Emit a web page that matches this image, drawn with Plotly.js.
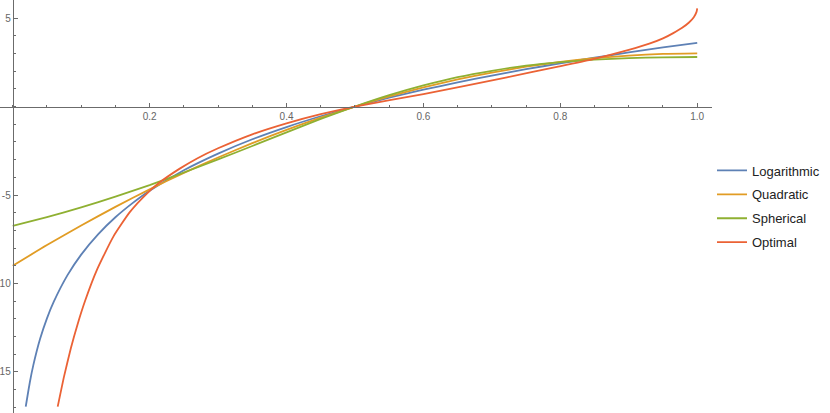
<!DOCTYPE html>
<html>
<head>
<meta charset="utf-8">
<script src="https://cdn.plot.ly/plotly-3.0.1.min.js"></script>
<style>
  html, body { margin: 0; padding: 0; background: #fff; }
  #chart { width: 830px; height: 413px; }
</style>
</head>
<body>
<div id="chart"></div>
<script>
// values
var seriesNames = ['Logarithmic', 'Quadratic', 'Spherical', 'Optimal'];
var seriesColors = ['#5E81B5', '#E19C24', '#8FB032', '#EB6235'];

var logP = [0.019, 0.025, 0.03, 0.04, 0.05, 0.06, 0.08, 0.1, 0.125, 0.15, 0.175, 0.2, 0.25, 0.3, 0.35, 0.4, 0.45, 0.5,
            0.55, 0.6, 0.65, 0.7, 0.75, 0.8, 0.85, 0.9, 0.95, 1.0];
var logY = [-16.96, -15.58, -14.63, -13.13, -11.97, -11.03, -9.53, -8.37, -7.21, -6.26, -5.46, -4.76, -3.60, -2.66, -1.85, -1.16, -0.55, 0,
            0.50, 0.95, 1.36, 1.75, 2.11, 2.44, 2.76, 3.06, 3.34, 3.60];

var quadP = [0, 0.05, 0.1, 0.15, 0.2, 0.25, 0.3, 0.35, 0.4, 0.45, 0.5, 0.55, 0.6, 0.65, 0.7, 0.75, 0.8, 0.85, 0.9, 0.95, 1.0];
var quadY = [-9.0, -7.83, -6.72, -5.67, -4.68, -3.75, -2.88, -2.07, -1.32, -0.63, 0, 0.57, 1.08, 1.53, 1.92, 2.25, 2.52, 2.73, 2.88, 2.97, 3.0];

var sphP = [0, 0.05, 0.1, 0.15, 0.2, 0.25, 0.3, 0.35, 0.4, 0.45, 0.5, 0.55, 0.6, 0.65, 0.7, 0.75, 0.8, 0.85, 0.9, 0.95, 1.0];
var sphY = [-6.75, -6.25, -5.70, -5.09, -4.44, -3.73, -2.99, -2.23, -1.46, -0.70, 0, 0.64, 1.19, 1.66, 2.02, 2.31, 2.51, 2.65, 2.74, 2.78, 2.80];

var optP = [0.0657, 0.075, 0.085, 0.095, 0.106, 0.123, 0.147, 0.171, 0.196, 0.213, 0.244, 0.27, 0.3, 0.35, 0.4, 0.45, 0.5,
            0.6, 0.722, 0.795, 0.848, 0.9, 0.93, 0.95, 0.965, 0.978, 0.988, 0.995, 0.999, 1.0];
var optY = [-16.96, -15.25, -13.65, -12.27, -10.95, -9.23, -7.35, -5.97, -4.92, -4.34, -3.51, -2.92, -2.36, -1.57, -0.95, -0.43, 0,
            0.7, 1.65, 2.24, 2.68, 3.2, 3.55, 3.85, 4.15, 4.45, 4.75, 5.05, 5.35, 5.55];

var xTickVals = [0.2, 0.4, 0.6, 0.8, 1.0];
var xTickText = ['0.2', '0.4', '0.6', '0.8', '1.0'];
var yTickVals = [-15, -10, -5, 5];
var yTickText = ['-15', '-10', '-5', '5'];

var xRange = [-0.0186, 1.0216];
var yRange = [-17.32, 6.02];

var xs = [logP, quadP, sphP, optP];
var ys = [logY, quadY, sphY, optY];

var traces = [];
for (var i = 0; i < seriesNames.length; i++) {
  traces.push({
    x: xs[i], y: ys[i],
    type: 'scatter', mode: 'lines',
    name: seriesNames[i],
    legendgroup: 'g' + i,
    line: { color: seriesColors[i], width: 1.8, shape: 'spline', smoothing: 0.5 },
    hoverinfo: 'skip'
  });
}

var axisColor = '#6b6b6b';
var tickFont = { family: 'Liberation Sans, Arial, sans-serif', size: 10, color: '#666' };

var layout = {
  width: 830, height: 413,
  margin: { l: 0, r: 118, t: 0, b: 0, pad: 0 },
  paper_bgcolor: '#fff', plot_bgcolor: '#fff',
  showlegend: true,
  legend: {
    x: 1.0, xanchor: 'left', y: 0.5, yanchor: 'middle',
    font: { family: 'Liberation Sans, Arial, sans-serif', size: 13, color: '#222' },
    traceorder: 'grouped', tracegroupgap: 4,
    bgcolor: 'rgba(0,0,0,0)', borderwidth: 0
  },
  xaxis: {
    range: xRange, anchor: 'free',
    position: (0 - yRange[0]) / (yRange[1] - yRange[0]),
    showgrid: false, zeroline: false,
    showline: true, linecolor: axisColor, linewidth: 1,
    tickmode: 'array', tickvals: xTickVals, ticktext: xTickText,
    ticks: 'inside', ticklen: 4, tickcolor: axisColor, tickwidth: 1,
    minor: { dtick: 0.05, tick0: 0, ticks: 'inside', ticklen: 2, tickcolor: axisColor, showgrid: false },
    tickfont: tickFont
  },
  yaxis: {
    range: yRange, anchor: 'free',
    position: (0 - xRange[0]) / (xRange[1] - xRange[0]),
    showgrid: false, zeroline: false,
    showline: true, linecolor: axisColor, linewidth: 1,
    tickmode: 'array', tickvals: yTickVals, ticktext: yTickText,
    ticks: 'inside', ticklen: 4, tickcolor: axisColor, tickwidth: 1,
    minor: { dtick: 1, tick0: 0, ticks: 'inside', ticklen: 2, tickcolor: axisColor, showgrid: false },
    tickfont: tickFont
  }
};

Plotly.newPlot('chart', traces, layout, { displayModeBar: false, staticPlot: true });
</script>
</body>
</html>
